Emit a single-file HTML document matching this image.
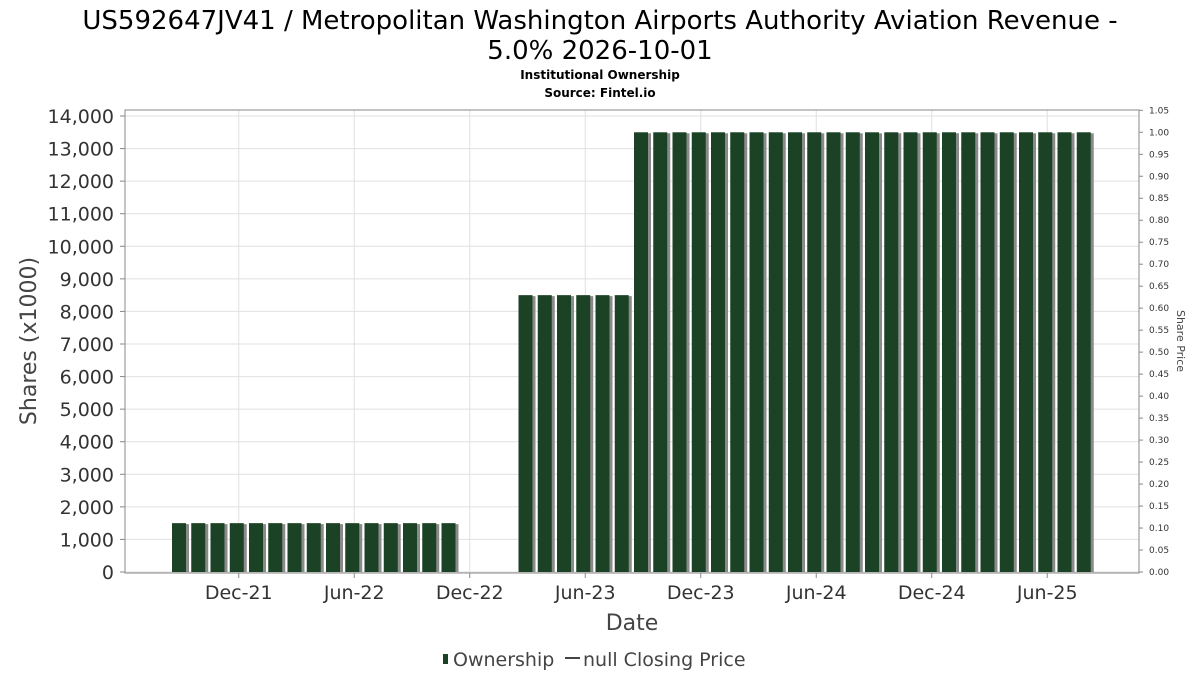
<!DOCTYPE html>
<html><head><meta charset="utf-8"><style>
body{margin:0;background:#fff;font-family:"DejaVu Sans","Liberation Sans",sans-serif}
</style></head><body>
<svg id="chart" width="1200" height="675" xmlns="http://www.w3.org/2000/svg" font-family="DejaVu Sans, Liberation Sans, sans-serif">
<text x="600" y="29" text-anchor="middle" font-size="26" fill="#000">US592647JV41 / Metropolitan Washington Airports Authority Aviation Revenue -</text>
<text x="600" y="59" text-anchor="middle" font-size="26" fill="#000">5.0% 2026-10-01</text>
<text x="600" y="79" text-anchor="middle" font-size="12" font-weight="bold">Institutional Ownership</text>
<text x="600" y="97" text-anchor="middle" font-size="12" font-weight="bold">Source: Fintel.io</text>
<g id="grid"></g><g id="bars"></g><g id="axes"></g>
<rect x="125" y="110" width="1014" height="463" fill="none" stroke="#888"/>
<text transform="translate(36,341) rotate(-90)" text-anchor="middle" font-size="22" fill="#444">Shares (x1000)</text>
<text transform="translate(1177,341) rotate(90)" text-anchor="middle" font-size="11" fill="#444">Share Price</text>
<text x="632" y="630" text-anchor="middle" font-size="22" fill="#444">Date</text>
<g>
<rect x="443" y="654" width="5" height="10" fill="#1c4226"/>
<text x="453" y="666" font-size="19" fill="#444">Ownership</text>
<line x1="565" y1="658" x2="580" y2="658" stroke="#444" stroke-width="2"/>
<text x="583" y="666" font-size="19" fill="#444">null Closing Price</text>
</g>
</svg>
<script>
const shares = [1500,1500,1500,1500,1500,1500,1500,1500,1500,1500,1500,1500,1500,1500,1500,0,0,0,8500,8500,8500,8500,8500,8500,13500,13500,13500,13500,13500,13500,13500,13500,13500,13500,13500,13500,13500,13500,13500,13500,13500,13500,13500,13500,13500,13500,13500,13500];
const yTicks = [0,1000,2000,3000,4000,5000,6000,7000,8000,9000,10000,11000,12000,13000,14000];
const y2Ticks = ["0.00","0.05","0.10","0.15","0.20","0.25","0.30","0.35","0.40","0.45","0.50","0.55","0.60","0.65","0.70","0.75","0.80","0.85","0.90","0.95","1.00","1.05"];
const xTickLabels = ["Dec-21","Jun-22","Dec-22","Jun-23","Dec-23","Jun-24","Dec-24","Jun-25"];
const xTickMonth = [3,9,15,21,27,33,39,45];
const NS="http://www.w3.org/2000/svg";
const x = i => 172 + i*19.25;
const y = v => 572 - v*(456/14000);
const y2 = v => 572 - v*(456/14000*13500);
function mk(tag,attrs,parent){const e=document.createElementNS(NS,tag);for(const k in attrs)e.setAttribute(k,attrs[k]);document.getElementById(parent).appendChild(e);return e;}
yTicks.forEach(t=>{
  const g=mk('line',{x1:125,x2:1139,y1:y(t),y2:y(t),stroke:'#e0e0e0'},'grid');
  
  
  const tx=mk('text',{x:114,y:y(t)+7,'text-anchor':'end','font-size':19,fill:'#333'},'axes');
  tx.textContent=t.toLocaleString('en-US');
  
  
  mk('line',{x1:120,x2:125,y1:y(t),y2:y(t),stroke:'#888'},'axes');
});
y2Ticks.forEach(t=>{
  const tx=mk('text',{x:1149,y:y2(+t)+3,'font-size':9,fill:'#333'},'axes');
  tx.textContent=t;
  
  
  mk('line',{x1:1139,x2:1143,y1:y2(+t),y2:y2(+t),stroke:'#888'},'axes');
});
xTickMonth.forEach((m,i)=>{
  const px=x(m)+9;
  const g=mk('line',{x1:px,x2:px,y1:110,y2:573,stroke:'#e0e0e0'},'grid');
  
  
  mk('line',{x1:px,x2:px,y1:573,y2:578,stroke:'#888'},'axes');
  const tx=mk('text',{x:px,y:599,'text-anchor':'middle','font-size':19,fill:'#333'},'axes');
  tx.textContent=xTickLabels[i];
  
  
});
shares.forEach((v,i)=>{
  if(!v)return;
  const s=mk('rect',{x:x(i)+3,y:y(v)+1,width:14,height:572-y(v)-1,fill:'#8a8a8a'},'bars');
  
  
  const b=mk('rect',{x:x(i),y:y(v),width:14,height:572-y(v),fill:'#1c4226'},'bars');
  
  
});
</script>
</body></html>
